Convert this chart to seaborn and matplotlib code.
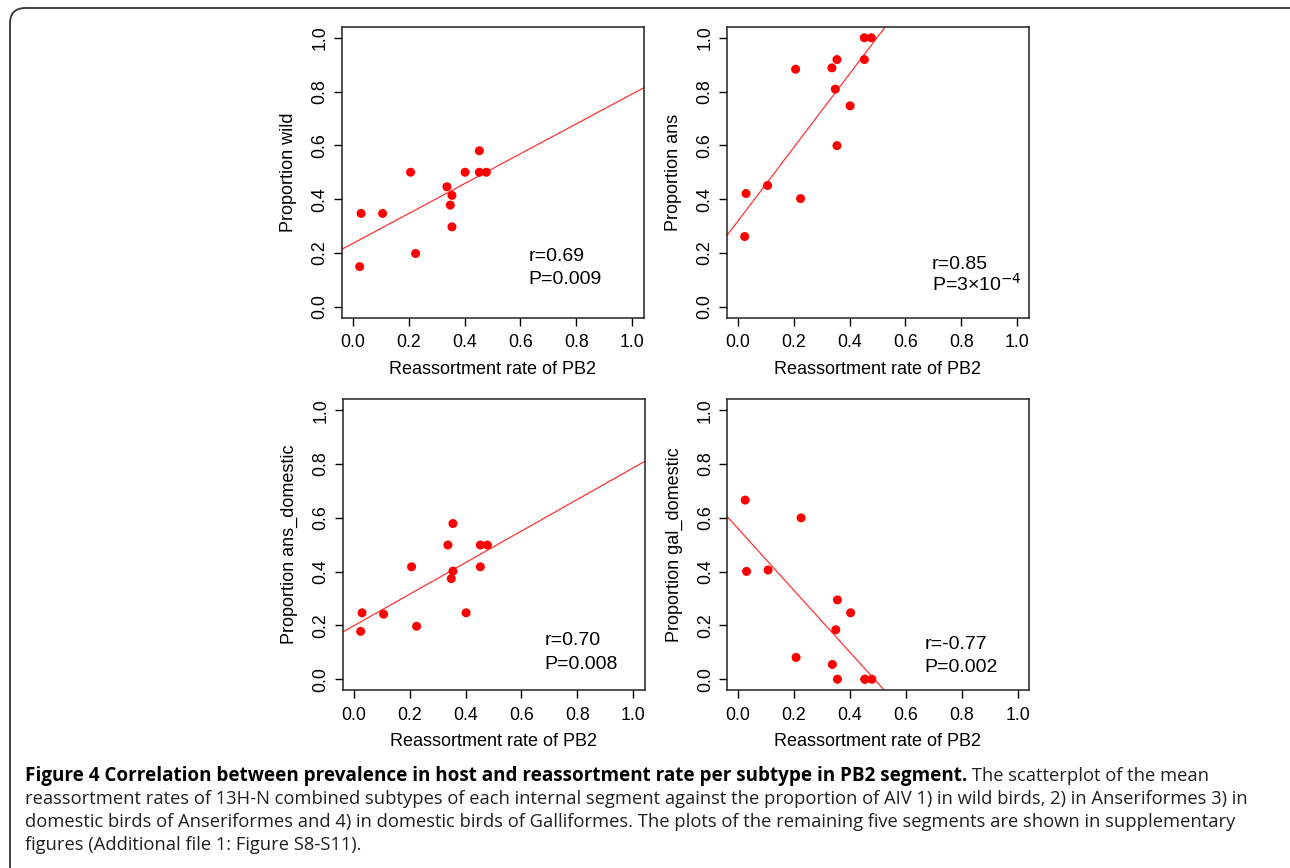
import numpy as np
import pandas as pd
import matplotlib
matplotlib.use("Agg")
import matplotlib.pyplot as plt
import seaborn as sns
from matplotlib.patches import FancyBboxPatch

# ---------------- data ----------------
reassort_rate = [0.025, 0.030, 0.107, 0.207, 0.225, 0.337, 0.349, 0.355, 0.355,
                 0.402, 0.453, 0.453, 0.478]
prop_wild = [0.149, 0.347, 0.347, 0.500, 0.198, 0.446, 0.378, 0.414, 0.297,
             0.500, 0.580, 0.500, 0.500]
prop_ans = [0.261, 0.421, 0.451, 0.883, 0.402, 0.888, 0.809, 0.919, 0.599,
            0.747, 1.000, 0.919, 1.000]
prop_ans_domestic = [0.178, 0.247, 0.242, 0.418, 0.197, 0.499, 0.374, 0.579, 0.402,
                     0.247, 0.499, 0.418, 0.499]
prop_gal_domestic = [0.666, 0.401, 0.406, 0.081, 0.600, 0.055, 0.184, 0.295, 0.000,
                     0.247, 0.000, 0.000, 0.000]
y_labels = ["Proportion wild", "Proportion ans", "Proportion ans_domestic",
            "Proportion gal_domestic"]
r_texts = ["r=0.69", "r=0.85", "r=0.70", "r=-0.77"]
p_texts = ["P=0.009", "P=3\u00d710$^{-4}$", "P=0.008", "P=0.002"]
x_label = "Reassortment rate of PB2"
ticks = [0.0, 0.2, 0.4, 0.6, 0.8, 1.0]
tick_labels = ["0.0", "0.2", "0.4", "0.6", "0.8", "1.0"]

caption_bold = ("Figure 4 Correlation between prevalence in host and reassortment "
                "rate per subtype in PB2 segment.")
caption_lines = [
    " The scatterplot of the mean",
    "reassortment rates of 13H-N combined subtypes of each internal segment against "
    "the proportion of AIV 1) in wild birds, 2) in Anseriformes 3) in",
    "domestic birds of Anseriformes and 4) in domestic birds of Galliformes. The plots "
    "of the remaining five segments are shown in supplementary",
    "figures (Additional file 1: Figure S8-S11).",
]

df = pd.DataFrame({
    "x": reassort_rate,
    "wild": prop_wild,
    "ans": prop_ans,
    "ans_domestic": prop_ans_domestic,
    "gal_domestic": prop_gal_domestic,
})
cols = ["wild", "ans", "ans_domestic", "gal_domestic"]

# ---------------- style ----------------
sns.set_theme(style="ticks")
plt.rcParams["font.family"] = ["Liberation Sans", "DejaVu Sans"]
plt.rcParams["axes.edgecolor"] = "black"
plt.rcParams["axes.linewidth"] = 1.0
plt.rcParams["xtick.color"] = "black"
plt.rcParams["ytick.color"] = "black"
plt.rcParams["axes.labelcolor"] = "black"

W, H = 1290, 868
fig = plt.figure(figsize=(W / 100, H / 100), dpi=100)
fig.patch.set_facecolor("white")

ax_w, ax_h = 302, 290.5
pos_px = [(341.5, 27.0), (726.5, 27.0), (342.5, 399.5), (727.0, 399.5)]
ann_pos = [(0.628, 0.170, 0.083), (0.695, 0.139, 0.058),
           (0.683, 0.126, 0.039), (0.666, 0.113, 0.026)]

for i, col in enumerate(cols):
    lx, ty = pos_px[i]
    ax = fig.add_axes([lx / W, 1 - (ty + ax_h) / H, ax_w / W, ax_h / H])
    ax.set_xlim(-0.04, 1.04)
    ax.set_ylim(-0.04, 1.04)
    sns.regplot(data=df, x="x", y=col, ax=ax, ci=None, truncate=False,
                scatter_kws=dict(s=42, color="#ff0000", edgecolor="none",
                                 alpha=1, zorder=3),
                line_kws=dict(color="#ff3333", lw=0.9, zorder=2))
    ax.set_xlim(-0.04, 1.04)
    ax.set_ylim(-0.04, 1.04)
    ax.set_xticks(ticks)
    ax.set_xticklabels(tick_labels)
    ax.set_yticks(ticks)
    ax.set_yticklabels(tick_labels, rotation=90, va="center")
    ax.tick_params(axis="both", direction="out", length=6, width=1.0,
                   labelsize=12.8, colors="black")
    ax.tick_params(axis="x", pad=6)
    ax.tick_params(axis="y", pad=3.5)
    ax.set_xlabel(x_label, fontsize=13, labelpad=7)
    ax.set_ylabel(y_labels[i], fontsize=13, labelpad=10)
    for s in ax.spines.values():
        s.set_visible(True)
        s.set_color("#222222")
        s.set_linewidth(1.1)
    ax.grid(False)
    ax.set_facecolor("white")
    tx, ry, py = ann_pos[i]
    ax.text(tx, ry, r_texts[i], fontsize=14, va="baseline", ha="left", color="black")
    ax.text(tx, py, p_texts[i], fontsize=14, va="baseline", ha="left", color="black")

# ---------------- border ----------------
border = FancyBboxPatch((10 / W, -0.05), 1.2, 1 - 8 / H + 0.05,
                        boxstyle="round,pad=0,rounding_size=0.012",
                        transform=fig.transFigure, fill=False,
                        edgecolor="#333333", lw=1.3, zorder=0,
                        mutation_aspect=W / H)
fig.patches.append(border)

# ---------------- caption ----------------
cap_font = ["Open Sans", "DejaVu Sans"]
bold_size = 13.6
norm_size = 13.2
x0 = 25 / W
baselines = [781, 804, 827, 850]
tb = fig.text(x0, 1 - baselines[0] / H, caption_bold, family=cap_font,
              fontsize=bold_size, fontweight="bold", va="baseline", ha="left",
              color="black")
fig.canvas.draw()
bb = tb.get_window_extent(renderer=fig.canvas.get_renderer())
fig.text(bb.x1 / W, 1 - baselines[0] / H, caption_lines[0], family=cap_font,
         fontsize=norm_size, va="baseline", ha="left", color="#231f20")
for k in range(1, 4):
    fig.text(x0, 1 - baselines[k] / H, caption_lines[k], family=cap_font,
             fontsize=norm_size, va="baseline", ha="left", color="#231f20")

fig.savefig("out.png", dpi=100, facecolor="white")
